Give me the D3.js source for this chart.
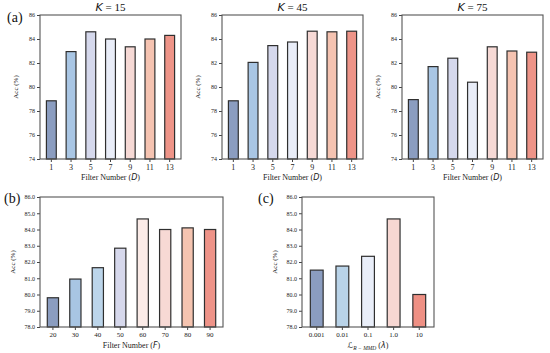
<!DOCTYPE html>
<html>
<head>
<meta charset="utf-8">
<script src="https://cdn.jsdelivr.net/npm/d3@7"></script>
<style>
  body { margin: 0; background: #fff; }
  svg { display: block; font-family: "Liberation Serif", "DejaVu Serif", serif; }
</style>
</head>
<body>
<svg id="chart" width="550" height="353"></svg>
<script>
// ---- data ----
var filterD = ["1", "3", "5", "7", "9", "11", "13"];
var accK15 = [78.85, 82.95, 84.6, 84.0, 83.35, 84.0, 84.3];
var accK45 = [78.85, 82.05, 83.45, 83.75, 84.65, 84.6, 84.65];
var accK75 = [78.95, 81.7, 82.4, 80.4, 83.35, 83.0, 82.9];

var filterF = ["20", "30", "40", "50", "60", "70", "80", "90"];
var accF = [79.8, 80.95, 81.65, 82.85, 84.65, 84.0, 84.1, 84.0];

var lambdas = ["0.001", "0.01", "0.1", "1.0", "10"];
var accLambda = [81.5, 81.75, 82.35, 84.65, 80.0];

var ticksA = [74, 76, 78, 80, 82, 84, 86];
var ticksBC = [78, 79, 80, 81, 82, 83, 84, 85, 86];

var colorsD = ["#8b9dc0", "#a9c6e4", "#d5d8ec", "#e9edf8", "#f6d9d5", "#f5c3b1", "#ee9488"];
var colorsF = ["#8b9dc0", "#a8c5e3", "#bcd5ea", "#d6d8ec", "#fbebe7", "#f7d9d4", "#f5c4b0", "#ee9388"];
var colorsL = ["#8b9dc0", "#b9d3e8", "#e9eef9", "#f7d7d2", "#ee9084"];

var serif = "Liberation Serif, DejaVu Serif, serif";
var svg = d3.select("#chart");

var drawPanel = function(p)
{
  var g = svg.append("g").attr("transform", "translate(" + p.x + "," + p.y + ")");

  var xScale = d3.scaleBand()
      .domain(p.cats)
      .range([0, p.w])
      .paddingInner(0.5)
      .paddingOuter(0.325);
  var yScale = d3.scaleLinear()
      .domain(p.yDomain)
      .range([p.h, 0]);

  // bars
  g.selectAll("rect.bar")
    .data(p.values)
    .enter().append("rect")
    .attr("class", "bar")
    .attr("x", function(d, i) { return xScale(p.cats[i]); })
    .attr("width", xScale.bandwidth())
    .attr("y", function(d) { return yScale(d); })
    .attr("height", function(d) { return p.h - yScale(d); })
    .attr("fill", function(d, i) { return p.colors[i]; })
    .attr("stroke", "#2f2f2f")
    .attr("stroke-width", 1.2);

  // axes
  var xAxis = g.append("g")
      .attr("transform", "translate(0," + p.h + ")")
      .call(d3.axisBottom(xScale).tickSizeOuter(0).tickSize(3).tickPadding(2));
  xAxis.attr("font-family", serif);
  xAxis.select(".domain").remove();
  xAxis.selectAll("text").attr("font-size", p.xFont).attr("fill", "#222");
  xAxis.selectAll("line").attr("stroke", "#444");

  var yAxis = g.append("g")
      .call(d3.axisLeft(yScale).tickValues(p.yTicks).tickFormat(d3.format(p.yFmt))
            .tickSizeOuter(0).tickSize(3).tickPadding(2));
  yAxis.attr("font-family", serif);
  yAxis.select(".domain").remove();
  yAxis.selectAll("text").attr("font-size", 6).attr("fill", "#222");
  yAxis.selectAll("line").attr("stroke", "#444");

  // frame
  g.append("rect")
    .attr("width", p.w).attr("height", p.h)
    .attr("fill", "none")
    .attr("stroke", "#555")
    .attr("stroke-width", 1.1);

  // y label
  g.append("text")
    .attr("transform", "translate(" + p.yLabX + "," + (p.h / 2) + ") rotate(-90)")
    .attr("text-anchor", "middle")
    .attr("font-size", 7)
    .attr("fill", "#222")
    .text("Acc (%)");

  // x label
  var xl = g.append("text")
    .attr("x", p.w / 2)
    .attr("y", p.h + 21)
    .attr("text-anchor", "middle")
    .attr("font-size", 8)
    .attr("fill", "#222");
  p.xLabel(xl);

  // title
  if (p.title)
  {
    var t = g.append("text")
      .attr("x", p.w / 2)
      .attr("y", -4)
      .attr("text-anchor", "middle")
      .attr("font-size", 11)
      .attr("fill", "#111");
    t.append("tspan").attr("font-family", "DejaVu Sans, sans-serif").attr("font-style", "italic").text("K");
    t.append("tspan").text(" = " + p.title);
  }
};

var labelWith = function(varName)
{
  return function(sel)
  {
    sel.append("tspan").text("Filter Number (");
    sel.append("tspan").attr("font-family", "DejaVu Sans, sans-serif").attr("font-style", "italic").text(varName);
    sel.append("tspan").text(")");
  };
};

var panelsA = [
  { x: 40, vals: accK15, title: "15" },
  { x: 222, vals: accK45, title: "45" },
  { x: 402, vals: accK75, title: "75" }
];
panelsA.forEach(function(a)
{
  drawPanel({
    x: a.x, y: 15, w: 141, h: 144,
    cats: filterD, values: a.vals, colors: colorsD,
    yDomain: [74, 86], yTicks: ticksA, yFmt: "d",
    xFont: 8, yLabX: -22, title: a.title,
    xLabel: labelWith("D")
  });
});

drawPanel({
  x: 40, y: 197, w: 183, h: 130,
  cats: filterF, values: accF, colors: colorsF,
  yDomain: [78, 86], yTicks: ticksBC, yFmt: ".1f",
  xFont: 7, yLabX: -25, title: null,
  xLabel: labelWith("F")
});

drawPanel({
  x: 302, y: 197, w: 132, h: 130,
  cats: lambdas, values: accLambda, colors: colorsL,
  yDomain: [78, 86], yTicks: ticksBC, yFmt: ".1f",
  xFont: 7, yLabX: -25, title: null,
  xLabel: function(sel)
  {
    sel.append("tspan").attr("font-family", "DejaVu Sans, sans-serif").attr("font-style", "italic").text("\u2112");
    sel.append("tspan").attr("font-size", 5.5).attr("font-style", "italic").attr("dy", 2).text("R \u2212 MMD");
    sel.append("tspan").attr("dy", -2).text(" (");
    sel.append("tspan").attr("font-family", "DejaVu Sans, sans-serif").attr("font-style", "italic").text("\u03bb");
    sel.append("tspan").text(")");
  }
});

// panel letters
var letters = [
  { t: "(a)", x: 7, y: 22 },
  { t: "(b)", x: 4, y: 203 },
  { t: "(c)", x: 258, y: 203 }
];
svg.selectAll("text.letter")
  .data(letters)
  .enter().append("text")
  .attr("class", "letter")
  .attr("x", function(d) { return d.x; })
  .attr("y", function(d) { return d.y; })
  .attr("font-size", 14)
  .attr("fill", "#111")
  .text(function(d) { return d.t; });
</script>
</body>
</html>
